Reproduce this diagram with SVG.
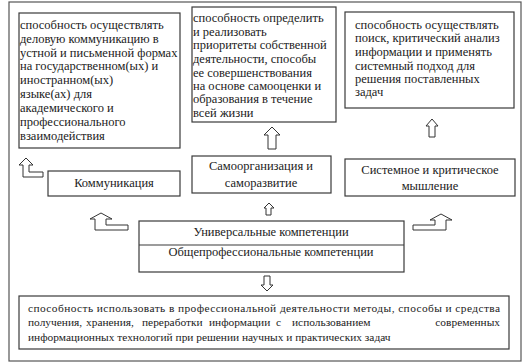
<svg xmlns="http://www.w3.org/2000/svg" width="529" height="364" viewBox="0 0 529 364" font-family="'Liberation Serif', 'DejaVu Serif', serif">
<style>
.box{fill:#fff;stroke:#3a3a3a;stroke-width:1.2}
.frame{fill:#fff;stroke:#555;stroke-width:1.2}
.arr{fill:#fff;stroke:#333;stroke-width:1}
text{font-family:'Liberation Serif','DejaVu Serif',serif;font-size:12.5px;fill:#222}
.c{text-anchor:middle}
.s{font-size:11.4px}
</style>
<rect class="frame" x="9" y="2" width="512" height="359"/>
<g id="n-comm-desc">
<rect class="box" x="19" y="13" width="161" height="135"/>
<text x="20" y="29">способность осуществлять</text>
<text x="20" y="43">деловую коммуникацию в</text>
<text x="20" y="57">устной и письменной формах</text>
<text x="20" y="70">на государственном(ых) и</text>
<text x="20" y="84">иностранном(ых)</text>
<text x="20" y="98">языке(ах) для</text>
<text x="20" y="112">академического и</text>
<text x="20" y="126">профессионального</text>
<text x="20" y="140">взаимодействия</text>
</g>
<g id="n-self-desc">
<rect class="box" x="192" y="7" width="144" height="115"/>
<text x="193" y="22">способность определить</text>
<text x="193" y="36">и реализовать</text>
<text x="193" y="49">приоритеты собственной</text>
<text x="193" y="63">деятельности, способы</text>
<text x="193" y="77">ее совершенствования</text>
<text x="193" y="90">на основе самооценки и</text>
<text x="193" y="103">образования в течение</text>
<text x="193" y="117">всей жизни</text>
</g>
<g id="n-sys-desc">
<rect class="box" x="345" y="12" width="169" height="96"/>
<text x="355" y="29">способность осуществлять</text>
<text x="355" y="42">поиск, критический анализ</text>
<text x="355" y="56">информации и применять</text>
<text x="355" y="70">системный подход для</text>
<text x="355" y="83">решения поставленных</text>
<text x="355" y="96">задач</text>
</g>
<g id="n-comm">
<rect class="box" x="48" y="171" width="132" height="25"/>
<text class="c" x="114" y="187">Коммуникация</text>
</g>
<g id="n-self">
<rect class="box" x="192" y="156" width="139" height="37"/>
<text class="c" x="261" y="170">Самоорганизация и</text>
<text class="c" x="261" y="187">саморазвитие</text>
</g>
<g id="n-sys">
<rect class="box" x="345" y="159" width="170" height="37"/>
<text class="c" x="430" y="174">Системное и критическое</text>
<text class="c" x="430" y="190">мышление</text>
</g>
<g id="n-univ">
<rect class="box" x="139" y="221" width="265" height="51"/>
<line x1="139" y1="245" x2="404" y2="245" stroke="#3a3a3a" stroke-width="1.2"/>
<text class="c" x="271" y="236">Универсальные компетенции</text>
<text class="c" x="271" y="256">Общепрофессиональные компетенции</text>
</g>
<g id="n-gen">
<rect class="box" x="19" y="296" width="490" height="53"/>
<text class="s" x="28" y="312" textLength="472" lengthAdjust="spacing">способность использовать в профессиональной деятельности методы, способы и средства</text>
<text class="s" x="28" y="326">получения,</text>
<text class="s" x="86" y="326">хранения,</text>
<text class="s" x="142" y="326">переработки</text>
<text class="s" x="209" y="326">информации</text>
<text class="s" x="276" y="326">с</text>
<text class="s" x="292" y="326">использованием</text>
<text class="s" x="500" y="326" text-anchor="end">современных</text>
<text class="s" x="28" y="341">информационных технологий при решении научных и практических задач</text>
</g>
<g id="connectors">
<path class="arr" d="M26,158 L33,165 L29,165 L29,172 L43,172 L43,177 L23,177 L23,165 L19,165 Z"/>
<path class="arr" d="M101,213 L112,219 L106,219 L106,225 L128,225 L128,230 L95,230 L95,219 L90,219 Z"/>
<path class="arr" d="M441,214 L452,220 L446,220 L446,230 L413,230 L413,225 L435,225 L435,220 L430,220 Z"/>
<path class="arr" d="M269,203 L274,208 L271,208 L271,215 L266,215 L266,208 L264,208 Z"/>
<path class="arr" d="M272,127 L280,135 L276,135 L276,149 L268,149 L268,135 L264,135 Z"/>
<path class="arr" d="M432,119 L438,126 L435,126 L435,137 L429,137 L429,126 L426,126 Z"/>
<path class="arr" d="M264,276 L270,276 L270,285 L273,285 L267,291 L261,285 L264,285 Z"/>
</g>
</svg>
